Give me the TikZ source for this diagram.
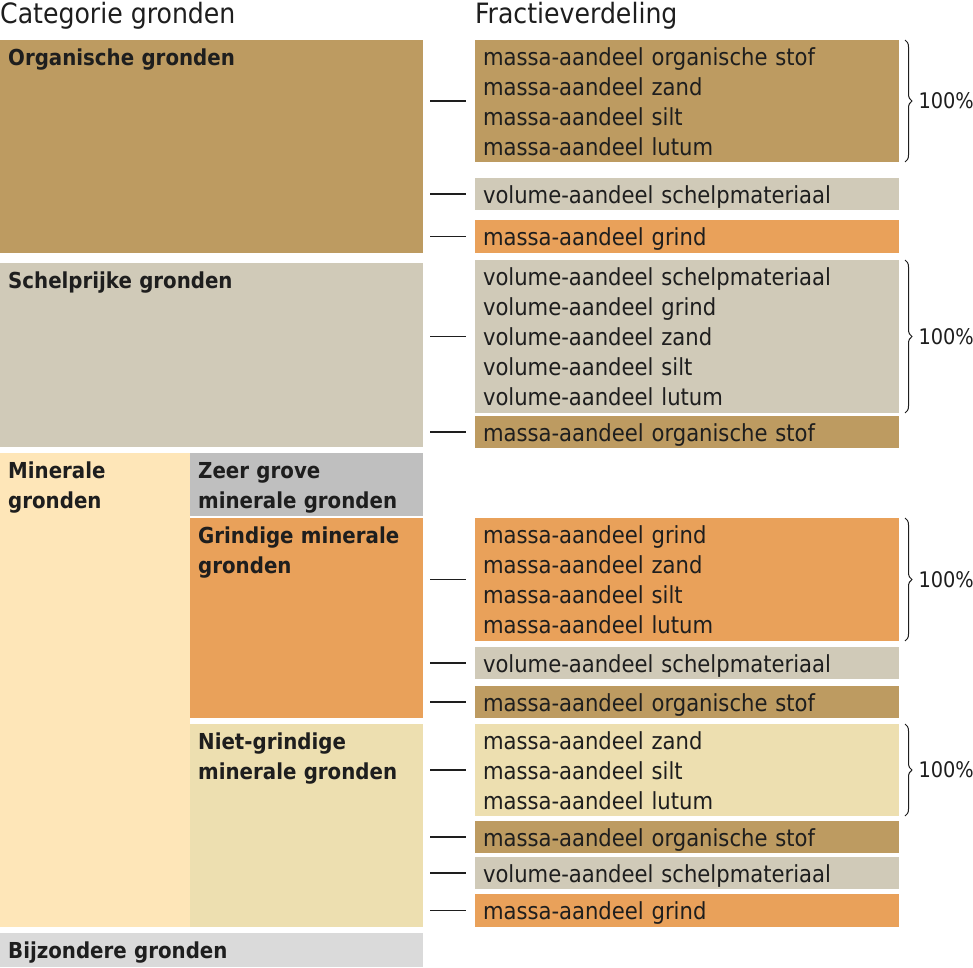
\documentclass[tikz,border=0pt]{standalone}
\usepackage{fontspec}
\setmainfont{DejaVu Sans Condensed}
\usetikzlibrary{calc,decorations.pathreplacing}
\definecolor{organisch}{HTML}{BD9B61}
\definecolor{schelp}{HTML}{D0CAB8}
\definecolor{mineraal}{HTML}{FEE6B8}
\definecolor{zeergrof}{HTML}{BFBFBF}
\definecolor{grind}{HTML}{E9A15A}
\definecolor{nietgrind}{HTML}{EDDFB0}
\definecolor{bijzonder}{HTML}{DADADA}
\definecolor{inkt}{HTML}{1E1E1E}
\newcommand{\bodyfont}{\fontsize{23.5}{30}\selectfont}
\newcommand{\catfont}{\fontsize{22}{30}\selectfont\bfseries}
\begin{document}
\begin{tikzpicture}[x=1pt,y=-1pt,inkt]
  \tikzstyle{cat}=[anchor=north west, inner sep=0pt, outer sep=0pt]
  \tikzstyle{catlabel}=[anchor=north west, inner xsep=8pt, inner ysep=0pt, text width=300pt, align=left, font=\catfont, execute at begin node={\rule{0pt}{25pt}}]
  \tikzstyle{frac}=[anchor=north west, inner xsep=8pt, inner ysep=0pt, outer sep=0pt, text width=408pt, align=left, font=\bodyfont, execute at begin node={\rule{0pt}{23pt}}, execute at end node={\rule[-5pt]{0pt}{5pt}}]
  \tikzstyle{link}=[line width=1.2pt, shorten <=7pt, shorten >=9pt]
  \tikzstyle{som}=[decorate, decoration={brace, amplitude=7pt}, line width=1pt]
  \tikzstyle{pct}=[anchor=west, inner sep=0pt, xshift=13pt, font=\fontsize{21.5}{24}\selectfont]
  \tikzstyle{kop}=[anchor=base west, inner sep=0pt, font=\fontsize{28}{30}\selectfont]
  \useasboundingbox (0,0) rectangle (973,967);

  \node[kop] (kcat) at (0,23) {Categorie gronden};
  \node[kop] (kfrac) at (475,23) {Fractieverdeling};

  \node[cat, fill=organisch, minimum width=423pt, minimum height=213pt, label={[catlabel]north west:Organische gronden}] (org) at (0,40) {};
  \node[cat, fill=schelp, minimum width=423pt, minimum height=184pt, label={[catlabel]north west:Schelprijke gronden}] (schelp) at (0,263) {};
  \node[cat, fill=mineraal, minimum width=190pt, minimum height=474pt, label={[catlabel]north west:Minerale\\gronden}] (miner) at (0,453) {};
  \node[cat, fill=zeergrof, minimum width=233pt, minimum height=63pt, label={[catlabel]north west:Zeer grove\\minerale gronden}] (zeer) at (190,453) {};
  \node[cat, fill=grind, minimum width=233pt, minimum height=200pt, label={[catlabel]north west:Grindige minerale\\gronden}] (grindig) at (190,518) {};
  \node[cat, fill=nietgrind, minimum width=233pt, minimum height=203pt, label={[catlabel]north west:Niet-grindige\\minerale gronden}] (nietgr) at (190,724) {};
  \node[cat, fill=bijzonder, minimum width=423pt, minimum height=34pt, label={[catlabel]north west:Bijzondere gronden}] (bijz) at (0,933) {};

  \node[frac, fill=organisch, minimum height=122pt] (r1) at (475,40) {massa-aandeel organische stof\\massa-aandeel zand\\massa-aandeel silt\\massa-aandeel lutum};
  \node[frac, fill=schelp, minimum height=32pt] (r2) at (475,178) {volume-aandeel schelpmateriaal};
  \node[frac, fill=grind, minimum height=33pt] (r3) at (475,220) {massa-aandeel grind};
  \node[frac, fill=schelp, minimum height=153pt] (r4) at (475,260) {volume-aandeel schelpmateriaal\\volume-aandeel grind\\volume-aandeel zand\\volume-aandeel silt\\volume-aandeel lutum};
  \node[frac, fill=organisch, minimum height=32pt] (r5) at (475,416) {massa-aandeel organische stof};
  \node[frac, fill=grind, minimum height=123pt] (r6) at (475,518) {massa-aandeel grind\\massa-aandeel zand\\massa-aandeel silt\\massa-aandeel lutum};
  \node[frac, fill=schelp, minimum height=32pt] (r7) at (475,647) {volume-aandeel schelpmateriaal};
  \node[frac, fill=organisch, minimum height=32pt] (r8) at (475,686) {massa-aandeel organische stof};
  \node[frac, fill=nietgrind, minimum height=92pt] (r9) at (475,724) {massa-aandeel zand\\massa-aandeel silt\\massa-aandeel lutum};
  \node[frac, fill=organisch, minimum height=32pt] (r10) at (475,821) {massa-aandeel organische stof};
  \node[frac, fill=schelp, minimum height=32pt] (r11) at (475,857) {volume-aandeel schelpmateriaal};
  \node[frac, fill=grind, minimum height=33pt] (r12) at (475,894) {massa-aandeel grind};

  \draw[link] (org.east |- r1) -- (r1);
  \draw[link] (org.east |- r2) -- (r2);
  \draw[link] (org.east |- r3) -- (r3);
  \draw[link] (schelp.east |- r4) -- (r4);
  \draw[link] (schelp.east |- r5) -- (r5);
  \draw[link] (grindig.east |- r6) -- (r6);
  \draw[link] (grindig.east |- r7) -- (r7);
  \draw[link] (grindig.east |- r8) -- (r8);
  \draw[link] (nietgr.east |- r9) -- (r9);
  \draw[link] (nietgr.east |- r10) -- (r10);
  \draw[link] (nietgr.east |- r11) -- (r11);
  \draw[link] (nietgr.east |- r12) -- (r12);

  \draw[som] ($(r1.north east)+(6,0)$) -- ($(r1.south east)+(6,0)$) node[pct, midway] (s1) {100\%};
  \draw[som] ($(r4.north east)+(6,0)$) -- ($(r4.south east)+(6,0)$) node[pct, midway] (s4) {100\%};
  \draw[som] ($(r6.north east)+(6,0)$) -- ($(r6.south east)+(6,0)$) node[pct, midway] (s6) {100\%};
  \draw[som] ($(r9.north east)+(6,0)$) -- ($(r9.south east)+(6,0)$) node[pct, midway] (s9) {100\%};
\end{tikzpicture}
\end{document}
